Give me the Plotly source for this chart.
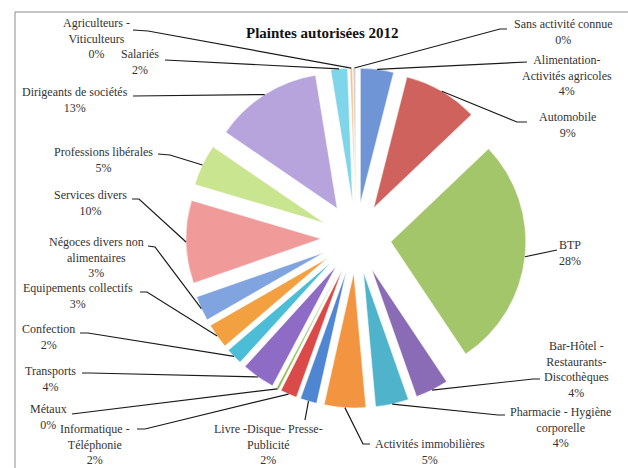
import math
import plotly.graph_objects as go

W, H = 628, 468

# Activity sectors, clockwise from 12 o'clock
categories = [
    "Alimentation-<br>Activités agricoles",
    "Automobile",
    "BTP",
    "Bar-Hôtel -<br>Restaurants-<br>Discothèques",
    "Pharmacie - Hygiène<br>corporelle",
    "Activités immobilières",
    "Livre -Disque- Presse-<br>Publicité",
    "Informatique -<br>Téléphonie",
    "Métaux",
    "Transports",
    "Confection",
    "Equipements collectifs",
    "Négoces divers non<br>alimentaires",
    "Services divers",
    "Professions libérales",
    "Dirigeants de sociétés",
    "Salariés",
    "Agriculteurs -<br>Viticulteurs",
    "Sans activité connue",
]
shares = [4, 9, 28, 4, 4, 5, 2, 2, 0.3, 4, 2, 3, 3, 10, 5, 13, 2, 0.3, 0.3]

colors = [
    "#6f95d6", "#d0625e", "#a3c66a", "#8a6bb5", "#4fb3cc", "#f39540",
    "#4f86d1", "#d94a48", "#9bbb59", "#8e6bc4", "#4bbdd6", "#f3a040",
    "#7fa4e0", "#f09a9a", "#c9e58f", "#b7a4dc", "#7fd5ea", "#f9c08a",
    "#d0d0d0",
]

# Label placement in pixels: text block centre, leader start, optional knee
label_layout = [
    dict(t=(567, 75), s=(527, 62), k=None),
    dict(t=(567, 125), s=(527, 122), k=(517, 122)),
    dict(t=(570, 253), s=(557, 250), k=None),
    dict(t=(576, 369), s=(540, 379), k=(533, 379)),
    dict(t=(560, 427), s=(505, 415), k=(498, 415)),
    dict(t=(430, 452), s=(370, 444), k=(363, 444)),
    dict(t=(268, 444), s=(305, 420), k=None),
    dict(t=(95, 444), s=(137, 429), k=(145, 429)),
    dict(t=(48, 417), s=(72, 414), k=None),
    dict(t=(50, 379), s=(82, 373), k=(90, 373)),
    dict(t=(48, 337), s=(80, 333), k=(88, 333)),
    dict(t=(78, 296), s=(140, 292), k=(147, 292)),
    dict(t=(96, 257), s=(148, 246), k=(155, 247)),
    dict(t=(90, 203), s=(132, 199), k=(139, 199)),
    dict(t=(103, 160), s=(158, 154), k=(170, 155)),
    dict(t=(75, 100), s=(133, 96), k=None),
    dict(t=(140, 62), s=(165, 60), k=None),
    dict(t=(96, 38), s=(133, 30), k=(148, 31)),
    dict(t=(563, 32), s=(507, 29), k=(500, 29)),
]

# Pie geometry (pixels)
cx, cy = 356, 238
R_out = 170
pull = 0.26
r = R_out / (1 + pull)

dom_x = [(cx - R_out) / W, (cx + R_out) / W]
dom_y = [1 - (cy + R_out) / H, 1 - (cy - R_out) / H]

total = sum(shares)


def px(x, y):
    return x / W, 1 - y / H


fig = go.Figure()
fig.add_trace(go.Pie(
    values=shares,
    labels=[c.replace("<br>", " ") for c in categories],
    sort=False,
    direction="clockwise",
    rotation=0,
    pull=[pull] * len(shares),
    marker=dict(colors=colors, line=dict(color="rgba(255,255,255,0.6)", width=0.8)),
    textinfo="none",
    hoverinfo="label+percent",
    domain=dict(x=dom_x, y=dom_y),
    showlegend=False,
))

annotations = []
shapes = []
cum = 0.0
for name, val, lay in zip(categories, shares, label_layout):
    mid = (cum + val / 2) / total * 2 * math.pi
    cum += val
    ax = cx + R_out * math.sin(mid)
    ay = cy - R_out * math.cos(mid)
    pct = round(val / total * 100)
    tx, ty = px(*lay["t"])
    annotations.append(dict(
        x=tx, y=ty, xref="paper", yref="paper", showarrow=False,
        xanchor="center", yanchor="middle", align="center",
        text=f"{name}<br>{pct}%",
        font=dict(family="Liberation Serif", size=12, color="#333333"),
    ))
    pts = [lay["s"]] + ([lay["k"]] if lay["k"] else []) + [(ax, ay)]
    path = ""
    for j, (x, y) in enumerate(pts):
        qx, qy = px(x, y)
        path += ("M" if j == 0 else " L") + f" {qx:.5f} {qy:.5f}"
    shapes.append(dict(type="path", path=path, xref="paper", yref="paper",
                       line=dict(color="#1a1a1a", width=1.2)))

tx, ty = px(322, 33)
annotations.append(dict(
    x=tx, y=ty, xref="paper", yref="paper", showarrow=False,
    xanchor="center", yanchor="middle",
    text="<b>Plaintes autorisées 2012</b>",
    font=dict(family="Liberation Serif", size=15, color="#111111"),
))

# Chart frame
fx0, fy0 = px(15, 12)
shapes.append(dict(type="rect", xref="paper", yref="paper",
                   x0=fx0, y0=fy0, x1=1.02, y1=-0.02,
                   line=dict(color="#8c8c8c", width=1)))

fig.update_layout(
    width=W, height=H,
    margin=dict(l=0, r=0, t=0, b=0),
    paper_bgcolor="white",
    plot_bgcolor="white",
    annotations=annotations,
    shapes=shapes,
)

fig.write_html("out.html")
